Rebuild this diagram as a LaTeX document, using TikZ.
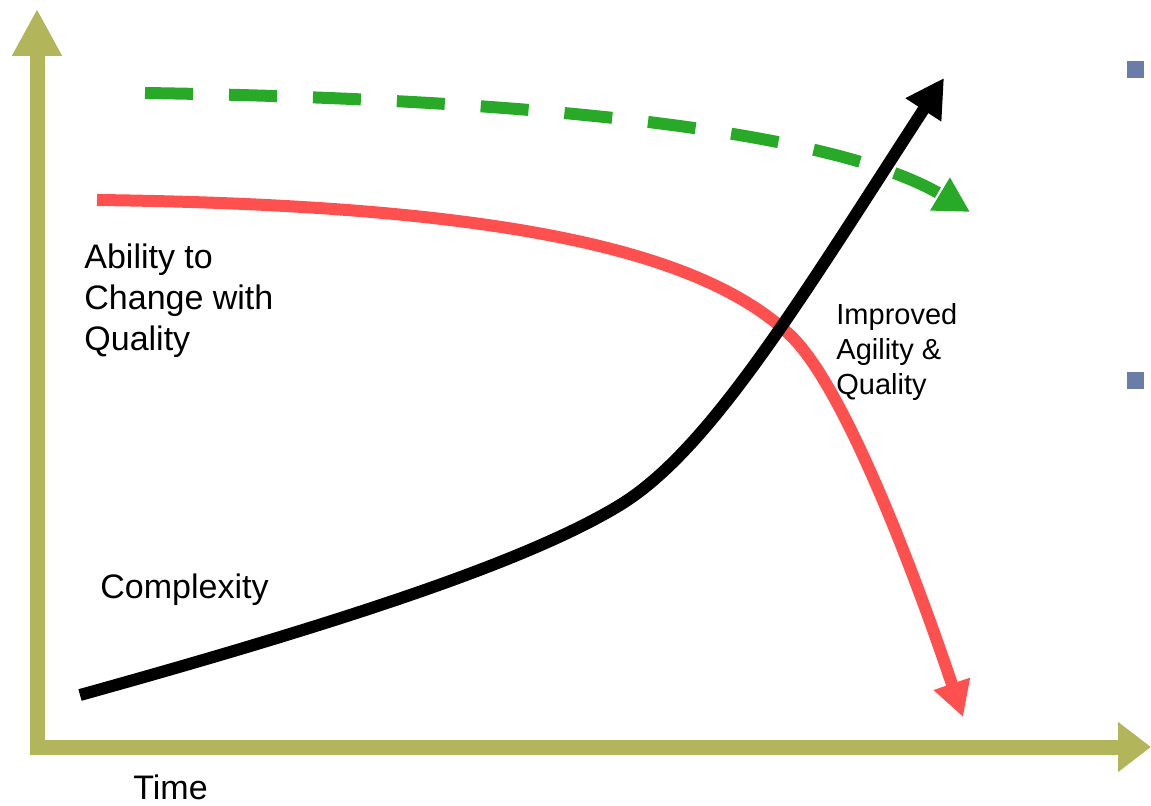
\documentclass[tikz,border=0pt]{standalone}
\usepackage{fontspec}
\setmainfont{Liberation Sans}
\usetikzlibrary{arrows.meta}

\definecolor{axisolive}{RGB}{178,181,90}
\definecolor{abilityred}{RGB}{255,80,80}
\definecolor{targetgreen}{RGB}{40,170,40}
\definecolor{bulletblue}{RGB}{106,125,168}

\tikzset{
  axis/.style={draw=axisolive, line width=7.5pt},
  curve/.style={line width=6pt},
  biglabel/.style={inner sep=0pt, align=left, font=\fontsize{17}{20.5}\selectfont},
  smalllabel/.style={inner sep=0pt, align=left, font=\fontsize{14.5}{17.5}\selectfont},
  bullet/.style={fill=bulletblue, inner sep=0pt, minimum size=8.5pt}
}

\begin{document}
\begin{tikzpicture}[x=0.5pt, y=-0.5pt]
  \useasboundingbox (0,0) rectangle (1151,806);

  \coordinate (origin) at (37,747);
  \coordinate (ytip)   at (37,9);
  \coordinate (xtip)   at (1151,747);

  % axes
  \draw[axis, -{Triangle[length=23.5pt, width=23.5pt]}] (37,755) -- (ytip);
  \draw[axis, -{Triangle[length=16.5pt, width=24pt]}]  (30,747) -- (xtip);

  % target: green dashed
  \draw[curve, targetgreen, dash pattern=on 24pt off 18pt,
        -{Triangle[length=17.5pt, width=18pt]}]
    (145,93) .. controls (600,100) and (850,140) .. (970,212);

  % ability to change
  \draw[curve, abilityred, -{Triangle[length=17.5pt, width=18pt]}]
    (97,200) .. controls (500,205) and (700,250) .. (790,335)
    .. controls (842,384) and (910,560) .. (963,717);

  % complexity
  \draw[curve, black, -{Triangle[length=19pt, width=20pt]}]
    (80,695) .. controls (350,620) and (530,560) .. (620,505)
    .. controls (710,450) and (800,300) .. (944,78);

  \node (ability)  at (84,243)  [biglabel, anchor=north west]
    {Ability to\\Change with\\Quality};
  \node (complex)  at (100,590) [biglabel, anchor=west] {Complexity};
  \node (improved) at (836,303) [smalllabel, anchor=north west]
    {Improved\\Agility \&\\Quality};
  \node (time)     at (133,787) [biglabel, anchor=west] {Time};

  \node (bullet1) at (1135.5,69.5)  [bullet] {};
  \node (bullet2) at (1135.5,380.5) [bullet] {};
\end{tikzpicture}
\end{document}
